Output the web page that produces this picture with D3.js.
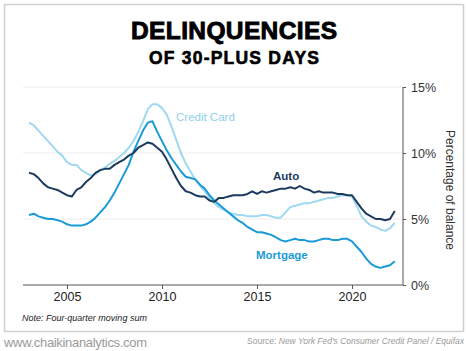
<!DOCTYPE html>
<html>
<head>
<meta charset="utf-8">
<script src="https://cdn.jsdelivr.net/npm/d3@7"></script>
<style>
    body { margin: 0; background: #fff; }
    svg { display: block; }
</style>
</head>
<body>
<div id="chart"></div>
<script>

// Quarterly series, 2003 Q1 .. 2022 Q2 (percent of balance, 4-quarter moving sum)
const startYear = 2003;

const creditCard = [
    12.3, 12.1, 11.7, 11.3,   10.9, 10.5, 10.1, 9.8,
    9.3, 9.1, 9.1, 8.7,       8.5, 8.3, 8.4, 8.7,
    8.9, 9.2, 9.4, 9.7,       10.0, 10.4, 10.9, 11.6,
    12.4, 13.3, 13.7, 13.7,   13.4, 12.9, 12.0, 11.0,
    10.0, 9.2, 8.6, 8.0,      7.5, 7.1, 6.6, 6.2,
    5.9, 5.7, 5.5, 5.4,       5.3, 5.3, 5.2, 5.2,
    5.2, 5.3, 5.3, 5.2,       5.1, 5.1, 5.5, 5.9,
    6.0, 6.1, 6.2, 6.2,       6.3, 6.4, 6.5, 6.6,
    6.6, 6.7, 6.8, 6.8,       6.7, 6.0, 5.2, 4.8,
    4.5, 4.4, 4.2, 4.1,       4.3, 4.7
];

const auto = [
    8.5, 8.4, 8.1, 7.7,       7.4, 7.3, 7.2, 7.0,
    6.8, 6.7, 7.2, 7.4,       7.8, 8.1, 8.5, 8.7,
    8.8, 8.8, 9.1, 9.3,       9.5, 9.8, 10.0, 10.4,
    10.6, 10.8, 10.7, 10.4,   10.1, 9.5, 8.8, 8.1,
    7.5, 7.1, 7.0, 6.8,       6.7, 6.7, 6.4, 6.3,
    6.6, 6.6, 6.7, 6.8,       6.8, 6.8, 6.9, 7.1,
    6.9, 7.1, 7.0, 7.1,       7.2, 7.3, 7.3, 7.4,
    7.3, 7.5, 7.3, 7.2,       7.0, 7.1, 7.0, 7.0,
    7.0, 6.9, 6.9, 6.8,       6.8, 6.3, 5.8, 5.4,
    5.2, 5.0, 5.0, 4.9,       5.0, 5.6
];

const mortgage = [
    5.3, 5.4, 5.2, 5.1,       5.0, 5.0, 4.9, 4.8,
    4.6, 4.5, 4.5, 4.5,       4.6, 4.8, 5.1, 5.5,
    5.9, 6.4, 7.0, 7.7,       8.4, 9.1, 10.1, 10.9,
    11.7, 12.3, 12.4, 11.6,   10.9, 10.2, 9.6, 9.1,
    8.6, 8.2, 8.1, 8.0,       7.6, 7.3, 6.8, 6.4,
    6.1, 5.8, 5.5, 5.2,       4.9, 4.7, 4.4, 4.2,
    4.0, 4.0, 3.9, 3.8,       3.6, 3.4, 3.3, 3.4,
    3.5, 3.4, 3.4, 3.3,       3.3, 3.4, 3.5, 3.5,
    3.4, 3.4, 3.5, 3.5,       3.3, 2.9, 2.5, 2.0,
    1.6, 1.4, 1.3, 1.4,       1.5, 1.8
];

const yearTicks = [2005, 2010, 2015, 2020];
const pctTicks = [0, 5, 10, 15];

const width = 468;
const height = 351;

const svg = d3.select("#chart").append("svg")
    .attr("width", width)
    .attr("height", height);

// panel frame
svg.append("rect")
    .attr("x", 4.5).attr("y", 4.5)
    .attr("width", 459).attr("height", 327)
    .attr("fill", "#fff")
    .attr("stroke", "#cfcfcf")
    .attr("stroke-width", 1.5);

// Title
svg.append("text")
    .attr("x", 234).attr("y", 39)
    .attr("text-anchor", "middle")
    .style("font-family", "'Liberation Sans', Arial, sans-serif")
    .style("font-weight", "bold")
    .style("font-size", "24.5px")
    .attr("textLength", 206)
    .attr("stroke", "#000").attr("stroke-width", 0.9)
    .text("DELINQUENCIES");

svg.append("text")
    .attr("x", 234).attr("y", 64)
    .attr("text-anchor", "middle")
    .style("font-family", "'Liberation Sans', Arial, sans-serif")
    .style("font-weight", "bold")
    .style("font-size", "17.5px")
    .attr("textLength", 170)
    .attr("stroke", "#000").attr("stroke-width", 0.6)
    .text("OF 30-PLUS DAYS");

// Scales
const x = d3.scaleLinear().domain([2005, 2020]).range([67, 352]);
const y = d3.scaleLinear().domain([0, 15]).range([285, 87]);

const plot = { left: 23, right: 403 };

// gridlines
svg.append("g")
    .selectAll("line")
    .data(pctTicks.filter(d => d > 0))
    .join("line")
    .attr("x1", plot.left).attr("x2", plot.right)
    .attr("y1", d => y(d)).attr("y2", d => y(d))
    .attr("stroke", "#ececec")
    .attr("stroke-width", 1);

// x axis
const xAxis = svg.append("g")
    .attr("transform", `translate(0, ${y(0)})`);
xAxis.append("line")
    .attr("x1", plot.left).attr("x2", plot.right)
    .attr("stroke", "#555").attr("stroke-width", 1);
xAxis.call(d3.axisBottom(x).tickValues(yearTicks).tickFormat(d3.format("d")).tickSize(4).tickPadding(3))
    .call(g => g.select(".domain").remove())
    .call(g => g.selectAll(".tick line").attr("stroke", "#555"))
    .call(g => g.selectAll("text")
        .attr("fill", "#222")
        .style("font-family", "'Liberation Sans', Arial, sans-serif")
        .style("font-size", "12.5px"));

// y axis on the right
const yAxis = svg.append("g")
    .attr("transform", `translate(${plot.right}, 0)`);
yAxis.call(d3.axisRight(y).tickValues(pctTicks).tickFormat(d => d + "%").tickSize(3).tickPadding(5))
    .call(g => g.select(".domain").attr("stroke", "#555").attr("d", `M0,${y(0)}V${y(15)}`))
    .call(g => g.selectAll(".tick line").attr("stroke", "#555"))
    .call(g => g.selectAll("text")
        .attr("fill", "#333")
        .style("font-family", "'Liberation Sans', Arial, sans-serif")
        .style("font-size", "12.5px"));

svg.append("text")
    .attr("transform", `translate(446, 190) rotate(90)`)
    .attr("text-anchor", "middle")
    .attr("fill", "#333")
    .style("font-family", "'Liberation Sans', Arial, sans-serif")
    .style("font-size", "12px")
    .text("Percentage of balance");

// Lines
const line = d3.line()
    .x((d, i) => x(startYear + i * 0.25))
    .y(d => y(d));

const series = [
    { name: "Credit Card", values: creditCard, color: "#9fd8f0" },
    { name: "Mortgage", values: mortgage, color: "#1a9bd7" },
    { name: "Auto", values: auto, color: "#1c3b5e" }
];

svg.append("g")
    .selectAll("path")
    .data(series)
    .join("path")
    .attr("d", d => line(d.values))
    .attr("fill", "none")
    .attr("stroke", d => d.color)
    .attr("stroke-width", 2)
    .attr("stroke-linejoin", "round");

// Series labels
const labels = [
    { text: "Credit Card", x: 176, y: 121, color: "#8fd0ec", weight: "normal" },
    { text: "Auto", x: 273, y: 180, color: "#1c3b5e", weight: "bold" },
    { text: "Mortgage", x: 256, y: 259, color: "#1a9bd7", weight: "bold" }
];

svg.append("g")
    .selectAll("text")
    .data(labels)
    .join("text")
    .attr("x", d => d.x).attr("y", d => d.y)
    .attr("fill", d => d.color)
    .style("font-family", "'Liberation Sans', Arial, sans-serif")
    .style("font-size", "11.5px")
    .style("font-weight", d => d.weight)
    .text(d => d.text);

// Note
svg.append("text")
    .attr("x", 22).attr("y", 321)
    .attr("fill", "#222")
    .style("font-family", "'Liberation Sans', Arial, sans-serif")
    .style("font-style", "italic")
    .style("font-size", "9px")
    .text("Note: Four-quarter moving sum");

// Footer
svg.append("text")
    .attr("x", 4).attr("y", 347)
    .attr("fill", "#9a9a9a")
    .style("font-family", "'Liberation Sans', Arial, sans-serif")
    .style("font-size", "13px")
    .attr("textLength", 143)
    .text("www.chaikinanalytics.com");

const source = svg.append("text")
    .attr("x", 464).attr("y", 344)
    .attr("text-anchor", "end")
    .attr("fill", "#9a9a9a")
    .style("font-family", "'Liberation Sans', Arial, sans-serif")
    .style("font-size", "8.5px");
source.append("tspan").text("Source: ");
source.append("tspan").style("font-style", "italic").text("New York Fed's Consumer Credit Panel / Equifax");

</script>
</body>
</html>
